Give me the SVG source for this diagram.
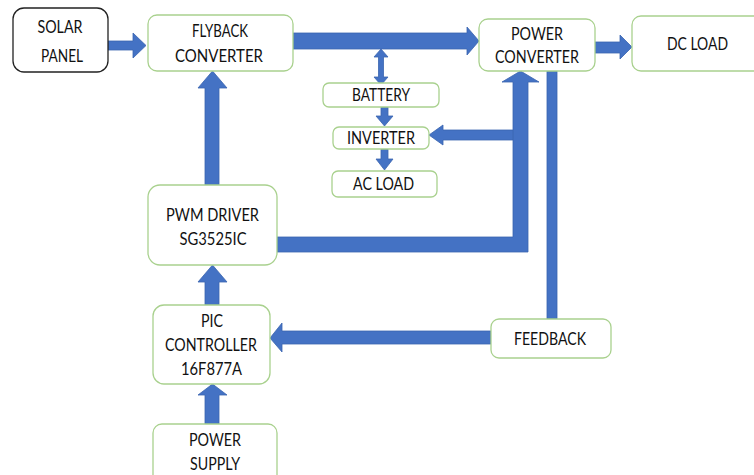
<svg xmlns="http://www.w3.org/2000/svg" width="754" height="475" viewBox="0 0 754 475">
  <style>
    .box { fill: #ffffff; stroke: #a9d18e; stroke-width: 1.3; }
    .box-dark { fill: #ffffff; stroke: #222222; stroke-width: 1.3; }
    .lbl { font-family: Lato, "Open Sans", "Liberation Sans", sans-serif; font-size: 17px; fill: #111111; text-anchor: middle; }
    .arrow { fill: #4472c4; stroke: #3a64b0; stroke-width: 0.8; stroke-linejoin: miter; }
  </style>
  <rect width="754" height="475" fill="#ffffff"/>

  <!-- connectors -->
  <g id="connectors">
    <polygon class="arrow" points="108,41 133,41 133,33 146,45.5 133,58 133,50 108,50"/>
    <polygon class="arrow" points="293,33 467,33 467,27 479,41 467,55 467,49 293,49"/>
    <polygon class="arrow" points="595,42 620,42 620,35 632,47 620,59 620,53 595,53"/>
    <polygon class="arrow" points="381,49 388,57 383.5,57 383.5,77 388,77 381,85 374,77 378.5,77 378.5,57 374,57"/>
    <polygon class="arrow" points="381,107 388,107 388,116 393,116 384.5,126 376,116 381,116"/>
    <polygon class="arrow" points="381,149 388,149 388,159 393,159 384.5,170 376,159 381,159"/>
    <polygon class="arrow" points="522,130 443,130 443,125 429,135 443,145 443,140 522,140"/>
    <polygon class="arrow" points="277,237 513,237 513,82 502,82 520.5,71 539,82 528,82 528,252 277,252"/>
    <polygon class="arrow" points="205,185 205,88 198,88 212.5,71 227,88 219,88 219,185"/>
    <polygon class="arrow" points="205,305 205,282 198,282 212.5,265 227,282 219,282 219,305"/>
    <polygon class="arrow" points="491,331 282,331 282,323 270,338 282,352 282,344 491,344"/>
    <polygon class="arrow" points="205,424 205,395 198,395 212.5,384 227,395 219,395 219,424"/>
    <rect class="arrow" x="547" y="71" width="10" height="248"/>
  </g>

  <g id="solar-panel">
    <rect class="box-dark" x="13" y="8" width="95" height="64" rx="11"/>
    <text class="lbl" x="60" y="33" textLength="45" lengthAdjust="spacingAndGlyphs">SOLAR</text>
    <text class="lbl" x="62" y="62" textLength="42" lengthAdjust="spacingAndGlyphs">PANEL</text>
  </g>

  <g id="flyback-converter">
    <rect class="box" x="148" y="15" width="145" height="56" rx="9"/>
    <text class="lbl" x="220" y="37" textLength="56" lengthAdjust="spacingAndGlyphs">FLYBACK</text>
    <text class="lbl" x="219" y="62" textLength="88" lengthAdjust="spacingAndGlyphs">CONVERTER</text>
  </g>

  <g id="power-converter">
    <rect class="box" x="479" y="19" width="116" height="52" rx="9"/>
    <text class="lbl" x="537" y="40" textLength="52" lengthAdjust="spacingAndGlyphs">POWER</text>
    <text class="lbl" x="537" y="63" textLength="84" lengthAdjust="spacingAndGlyphs">CONVERTER</text>
  </g>

  <g id="dc-load">
    <rect class="box" x="632" y="16" width="140" height="55" rx="9"/>
    <text class="lbl" x="697.5" y="50" textLength="61" lengthAdjust="spacingAndGlyphs">DC LOAD</text>
  </g>

  <g id="battery">
    <rect class="box" x="323" y="83" width="116" height="24" rx="6"/>
    <text class="lbl" x="381" y="101" textLength="58" lengthAdjust="spacingAndGlyphs">BATTERY</text>
  </g>

  <g id="inverter">
    <rect class="box" x="333" y="127" width="96" height="22" rx="6"/>
    <text class="lbl" x="381" y="144" textLength="68" lengthAdjust="spacingAndGlyphs">INVERTER</text>
  </g>

  <g id="ac-load">
    <rect class="box" x="332" y="171" width="105" height="26" rx="6"/>
    <text class="lbl" x="383.5" y="190" textLength="61" lengthAdjust="spacingAndGlyphs">AC LOAD</text>
  </g>

  <g id="pwm-driver">
    <rect class="box" x="148" y="185" width="129" height="80" rx="12"/>
    <text class="lbl" x="212.5" y="221" textLength="93" lengthAdjust="spacingAndGlyphs">PWM DRIVER</text>
    <text class="lbl" x="213" y="245" textLength="67" lengthAdjust="spacingAndGlyphs">SG3525IC</text>
  </g>

  <g id="pic-controller">
    <rect class="box" x="153" y="305" width="117" height="79" rx="11"/>
    <text class="lbl" x="212" y="327" textLength="22" lengthAdjust="spacingAndGlyphs">PIC</text>
    <text class="lbl" x="211" y="351" textLength="92" lengthAdjust="spacingAndGlyphs">CONTROLLER</text>
    <text class="lbl" x="211.5" y="375" textLength="61" lengthAdjust="spacingAndGlyphs">16F877A</text>
  </g>

  <g id="feedback">
    <rect class="box" x="491" y="319" width="120" height="39" rx="8"/>
    <text class="lbl" x="550" y="345" textLength="72" lengthAdjust="spacingAndGlyphs">FEEDBACK</text>
  </g>

  <g id="power-supply">
    <rect class="box" x="153" y="424" width="124" height="66" rx="9"/>
    <text class="lbl" x="215" y="446" textLength="52" lengthAdjust="spacingAndGlyphs">POWER</text>
    <text class="lbl" x="215" y="470" textLength="50" lengthAdjust="spacingAndGlyphs">SUPPLY</text>
  </g>
</svg>
